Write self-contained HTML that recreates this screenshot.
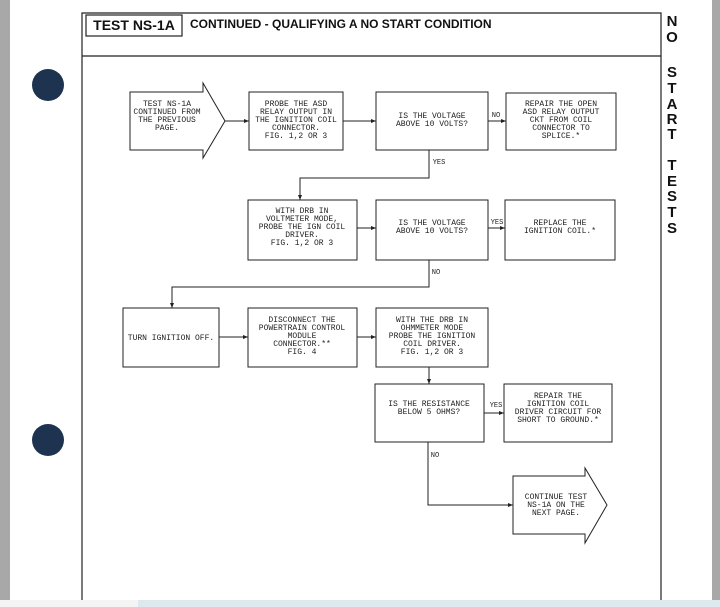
<!DOCTYPE html>
<html><head><meta charset="utf-8"><style>
html,body{margin:0;padding:0;background:#fff;}
svg{display:block;}
.t{font-family:"Liberation Mono",monospace;font-size:8px;fill:#222;text-anchor:middle;}
.h{font-family:"Liberation Sans",sans-serif;font-weight:bold;fill:#111;}
.v{font-family:"Liberation Sans",sans-serif;font-weight:bold;font-size:15px;fill:#111;text-anchor:middle;}
</style></head><body>
<svg width="720" height="607" viewBox="0 0 720 607" xmlns="http://www.w3.org/2000/svg">
<defs><marker id="a" markerWidth="6" markerHeight="6" refX="5" refY="3" orient="auto"><path d="M0,1 L5,3 L0,5 z" fill="#222"/></marker></defs>
<rect x="0" y="0" width="10" height="607" fill="#a8a8a8"/>
<rect x="712" y="0" width="8" height="607" fill="#a8a8a8"/>
<rect x="0" y="600" width="720" height="7" fill="#dde9ef"/>
<rect x="0" y="600" width="138" height="7" fill="#f4f4f4"/>
<circle cx="48" cy="85" r="16" fill="#1d3350"/>
<circle cx="48" cy="440" r="16" fill="#1d3350"/>
<g stroke="#222" fill="none" stroke-width="1.2">
<path d="M82,600 V13 H661 V600"/>
<line x1="82" y1="56" x2="661" y2="56"/>
<rect x="86" y="15" width="96" height="21"/>
</g>
<text class="h" x="134" y="30" font-size="14" text-anchor="middle">TEST NS-1A</text>
<text class="h" x="190" y="28" font-size="12">CONTINUED -  QUALIFYING A NO START CONDITION</text>
<g>
<text class="v" x="672" y="26">N</text><text class="v" x="672" y="42">O</text>
<text class="v" x="672" y="77">S</text><text class="v" x="672" y="93">T</text><text class="v" x="672" y="109">A</text><text class="v" x="672" y="124">R</text><text class="v" x="672" y="139">T</text>
<text class="v" x="672" y="170">T</text><text class="v" x="672" y="186">E</text><text class="v" x="672" y="201">S</text><text class="v" x="672" y="217">T</text><text class="v" x="672" y="233">S</text>
</g>
<g stroke="#222" fill="none" stroke-width="1">
<path d="M130,92 H203 V83 L225,121 L203,158 V150 H130 Z"/>
<rect x="249" y="92" width="94" height="58"/>
<rect x="376" y="92" width="112" height="58"/>
<rect x="506" y="93" width="110" height="57"/>
<rect x="248" y="200" width="109" height="60"/>
<rect x="376" y="200" width="112" height="60"/>
<rect x="505" y="200" width="110" height="60"/>
<rect x="123" y="308" width="96" height="59"/>
<rect x="248" y="308" width="109" height="59"/>
<rect x="376" y="308" width="112" height="59"/>
<rect x="375" y="384" width="109" height="58"/>
<rect x="504" y="384" width="108" height="58"/>
<path d="M513,476 H585 V468 L607,505 L585,543 V534 H513 Z"/>
<g marker-end="url(#a)">
<line x1="225" y1="121" x2="249" y2="121"/>
<line x1="343" y1="121" x2="376" y2="121"/>
<line x1="488" y1="121" x2="506" y2="121"/>
<path d="M429,150 V178 H300 V200"/>
<line x1="357" y1="228" x2="376" y2="228"/>
<line x1="488" y1="228" x2="505" y2="228"/>
<path d="M429,260 V287 H172 V308"/>
<line x1="219" y1="337" x2="248" y2="337"/>
<line x1="357" y1="337" x2="376" y2="337"/>
<line x1="429" y1="367" x2="429" y2="384"/>
<line x1="484" y1="413" x2="504" y2="413"/>
<path d="M428,442 V505 H513"/>
</g>
</g>
<g class="t">
<text x="167" y="106">TEST NS-1A</text><text x="167" y="114">CONTINUED FROM</text><text x="167" y="122">THE PREVIOUS</text><text x="167" y="130">PAGE.</text>
<text x="296" y="106">PROBE THE ASD</text><text x="296" y="114">RELAY OUTPUT IN</text><text x="296" y="122">THE IGNITION COIL</text><text x="296" y="130">CONNECTOR.</text><text x="296" y="138">FIG. 1,2 OR 3</text>
<text x="432" y="118">IS THE VOLTAGE</text><text x="432" y="126">ABOVE 10 VOLTS?</text>
<text x="496" y="117" font-size="7">NO</text>
<text x="561" y="106">REPAIR THE OPEN</text><text x="561" y="114">ASD RELAY OUTPUT</text><text x="561" y="122">CKT FROM COIL</text><text x="561" y="130">CONNECTOR TO</text><text x="561" y="138">SPLICE.*</text>
<text x="439" y="164" font-size="7">YES</text>
<text x="302" y="213">WITH DRB IN</text><text x="302" y="221">VOLTMETER MODE,</text><text x="302" y="229">PROBE THE IGN COIL</text><text x="302" y="237">DRIVER.</text><text x="302" y="245">FIG. 1,2 OR 3</text>
<text x="432" y="225">IS THE VOLTAGE</text><text x="432" y="233">ABOVE 10 VOLTS?</text>
<text x="497" y="224" font-size="7">YES</text>
<text x="560" y="225">REPLACE THE</text><text x="560" y="233">IGNITION COIL.*</text>
<text x="436" y="274" font-size="7">NO</text>
<text x="171" y="340">TURN IGNITION OFF.</text>
<text x="302" y="322">DISCONNECT THE</text><text x="302" y="330">POWERTRAIN CONTROL</text><text x="302" y="338">MODULE</text><text x="302" y="346">CONNECTOR.**</text><text x="302" y="354">FIG. 4</text>
<text x="432" y="322">WITH THE DRB IN</text><text x="432" y="330">OHMMETER MODE</text><text x="432" y="338">PROBE THE IGNITION</text><text x="432" y="346">COIL DRIVER.</text><text x="432" y="354">FIG. 1,2 OR 3</text>
<text x="429" y="406">IS THE RESISTANCE</text><text x="429" y="414">BELOW 5 OHMS?</text>
<text x="496" y="407" font-size="7">YES</text>
<text x="558" y="398">REPAIR THE</text><text x="558" y="406">IGNITION COIL</text><text x="558" y="414">DRIVER CIRCUIT FOR</text><text x="558" y="422">SHORT TO GROUND.*</text>
<text x="435" y="457" font-size="7">NO</text>
<text x="556" y="499">CONTINUE TEST</text><text x="556" y="507">NS-1A ON THE</text><text x="556" y="515">NEXT PAGE.</text>
</g>
</svg>
</body></html>
